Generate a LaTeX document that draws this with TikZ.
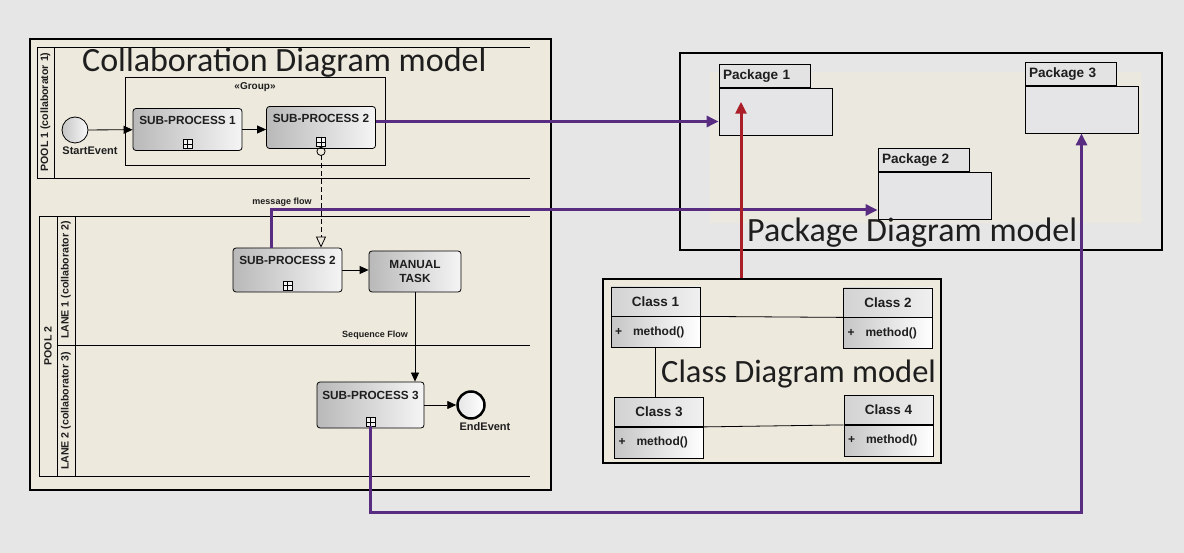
\documentclass[tikz,border=0pt]{standalone}
\usepackage{fontspec}
\setmainfont{Liberation Sans}
\newfontfamily\titlefont{Carlito}
\usetikzlibrary{arrows.meta,positioning}
\definecolor{bggray}{RGB}{230,230,230}
\definecolor{beige}{RGB}{237,233,221}
\definecolor{pkgfill}{RGB}{229,229,231}
\definecolor{flowpurple}{RGB}{88,44,128}
\definecolor{flowred}{RGB}{170,30,40}
\definecolor{ink}{RGB}{30,30,30}

\begin{document}
\begin{tikzpicture}[x=1pt,y=-1pt,text=ink,
  frame/.style={draw=black,line width=2.5pt,inner sep=0pt},
  subproc/.style={draw,thick,rounded corners=3pt,left color=gray!55,right color=gray!8,font=\bfseries\fontsize{11.8}{13}\selectfont,minimum width=109pt,minimum height=42pt,text height=8.5pt,text depth=19pt,inner sep=2pt},
  task/.style={draw,thick,rounded corners=3pt,left color=gray!55,right color=gray!8,font=\bfseries\fontsize{11.8}{13.5}\selectfont,minimum width=92pt,minimum height=41pt,align=center},
  plusbox/.style={draw,fill=gray!10,minimum size=9pt,inner sep=0pt,path picture={\draw (path picture bounding box.north) -- (path picture bounding box.south) (path picture bounding box.west) -- (path picture bounding box.east);}},
  event/.style={draw,circle,thick,minimum size=26pt,inner sep=0pt,left color=gray!45,right color=gray!5},
  evlabel/.style={font=\bfseries\fontsize{11}{12}\selectfont},
  small/.style={font=\bfseries\fontsize{9}{10}\selectfont},
  lanelbl/.style={font=\bfseries\fontsize{10.6}{12}\selectfont,rotate=90},
  flow/.style={thick,-{Triangle[length=9pt,width=8pt]}},
  msg/.style={thick,dash pattern=on 5pt off 3pt,{Circle[open,length=9pt,width=9pt]}-{Triangle[open,length=11pt,width=10pt]}},
  pflow/.style={draw=flowpurple,line width=3pt,-{Triangle[length=12pt,width=11pt]}},
  rflow/.style={draw=flowred,line width=3pt,-{Triangle[length=12pt,width=11pt]}},
  pkgbody/.style={draw,thick,fill=pkgfill,minimum width=113pt,minimum height=47pt},
  pkgtab/.style={draw,thick,fill=gray!22,text width=83pt,inner sep=4pt,minimum height=23pt,font=\bfseries\fontsize{13.6}{15}\selectfont,align=left},
  cls/.style={draw,thick,minimum width=89pt,minimum height=29pt,left color=gray!35,right color=gray!12,font=\bfseries\fontsize{13.5}{15}\selectfont},
  mth/.style={draw,thick,text width=81pt,inner sep=4pt,minimum height=31pt,left color=gray!45,right color=white,font=\bfseries\fontsize{12}{14}\selectfont,align=left},
  title/.style={font=\titlefont\fontsize{34}{38}\selectfont,anchor=base west,inner sep=0pt}]

\fill[bggray] (0,0) rectangle (1184,553);
\useasboundingbox (0,0) rectangle (1184,553);

% frames of the three models
\node[frame,fill=beige,minimum width=521pt,minimum height=451pt] (cdframe) at (290.5,264.5) {};
\node[frame,fill=bggray,minimum width=482pt,minimum height=197pt] (pdframe) at (921,151.5) {};
\fill[beige!70!bggray] (710,72) rectangle (1142,223);
\node[frame,fill=beige,minimum width=338pt,minimum height=184pt] (cdiag) at (772,371) {};

% pools and lanes
\draw[thick] (530,47) -- (37,47) -- (37,178) -- (530,178);
\draw[thick] (54,47) -- (54,178);
\draw[thick] (530,216) -- (39,216) -- (39,476) -- (530,476);
\draw[thick] (57,216) -- (57,476);
\draw[thick] (75,216) -- (75,476);
\draw[thick] (57,345) -- (530,345);
\node[lanelbl] (pool1) at (45.5,112) {POOL 1 (collaborator 1)};
\node[lanelbl] (pool2) at (48,346) {POOL 2};
\node[lanelbl] (lane1) at (66,280) {LANE 1 (collaborator 2)};
\node[lanelbl] (lane2) at (66,411) {LANE 2 (collaborator 3)};

\node[title] (cdtitle) at (82,72) {Collaboration Diagram model};

% group
\node[draw,thick,minimum width=260pt,minimum height=88pt] (grp) at (255,121) {};
\node[font=\bfseries\fontsize{10}{11}\selectfont] (grplbl) at (255,87) {«Group»};

% collaboration nodes
\node[event,label={[evlabel,xshift=15pt]below:StartEvent}] (start) at (75,130) {};
\node[subproc] (sp1) at (187.5,129.5) {SUB-PROCESS 1};
\node[plusbox,anchor=south] (p1) at ([yshift=2pt]sp1.south) {};
\node[subproc] (sp2) at (321,127.5) {SUB-PROCESS 2};
\node[plusbox,anchor=south] (p2) at ([yshift=2pt]sp2.south) {};
\node[subproc,minimum height=44pt] (spb) at (287.5,270) {SUB-PROCESS 2};
\node[plusbox,anchor=south] (pb) at ([yshift=2pt]spb.south) {};
\node[task] (task) at (415,271.5) {MANUAL\\TASK};
\node[subproc,minimum width=107pt,minimum height=46pt] (sp3) at (370.5,405) {SUB-PROCESS 3};
\node[plusbox,anchor=south] (p3) at ([yshift=2pt]sp3.south) {};
\node[event,line width=2.5pt,minimum size=27pt,left color=gray!20,right color=white,label={[evlabel,xshift=14pt,label distance=-1pt]below:EndEvent}] (stop) at (471,405) {};

\draw[flow] (start) -- (sp1);
\draw[flow] (sp1.east) -- (sp1.east -| sp2.west);
\draw[flow] (spb.east) -- (spb.east -| task.west);
\draw[flow] (task.south) -- (task.south |- sp3.north);
\draw[flow] (sp3.east) -- (stop.west);
\draw[msg] (p2.south) -- (p2.south |- spb.north);
\node[small] (msglbl) at (282,202) {message flow};
\node[small] (seqlbl) at (375,335) {Sequence Flow};

% package diagram
\node[pkgbody] (pk1) at (775.5,111.5) {};
\node[pkgtab,above right=0pt of pk1.north west] (pk1tab) {Package 1};
\node[pkgbody] (pk3) at (1081.5,109.5) {};
\node[pkgtab,above right=0pt of pk3.north west] (pk3tab) {Package 3};
\node[pkgbody] (pk2) at (934.5,196) {};
\node[pkgtab,above right=0pt of pk2.north west] (pk2tab) {Package 2};
\node[title] (pdtitle) at (747,242) {Package Diagram model};

% class diagram
\node[cls] (c1) at (655.5,301.5) {Class 1};
\node[mth,below=0pt of c1] (c1m) {+\hspace{11pt}method()};
\node[cls] (c2) at (888,302.5) {Class 2};
\node[mth,below=0pt of c2] (c2m) {+\hspace{11pt}method()};
\node[cls] (c3) at (659,412) {Class 3};
\node[mth,below=0pt of c3] (c3m) {+\hspace{11pt}method()};
\node[cls] (c4) at (888.5,410) {Class 4};
\node[mth,below=0pt of c4] (c4m) {+\hspace{11pt}method()};
\draw[thick] (c1m.north east) -- (c2m.north west);
\draw[thick] (c1m.south) -- (c1m.south |- c3.north);
\draw[thick] (c3m.north east) -- (c4m.north west);
\node[title,font=\titlefont\fontsize{32.5}{38}\selectfont] (cltitle) at (661,383) {Class Diagram model};

% links between the models
\draw[pflow] ([yshift=6pt]sp2.east) -- ([yshift=6pt]sp2.east -| pk1.west);
\draw[pflow] ([xshift=-16pt]spb.north) |- ([yshift=-14pt]pk2.west);
\draw[pflow] (p3.south) -- ++(0,86) -| (pk3.south);
\coordinate (rbase) at ([xshift=-31pt]cdiag.north);
\draw[rflow] (rbase) -- ++(0,-176);
\end{tikzpicture}
\end{document}
